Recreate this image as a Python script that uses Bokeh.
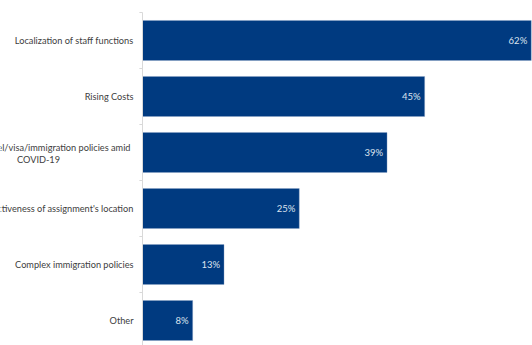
from bokeh.plotting import figure
from bokeh.models import ColumnDataSource, Range1d
from bokeh.embed import file_html
from bokeh.resources import INLINE
from bokeh.core.properties import value

categories = [
    "Localization of staff functions",
    "Rising Costs",
    "Travel/visa/immigration policies amid\nCOVID-19",
    "Attractiveness of assignment's location",
    "Complex immigration policies",
    "Other",
]
values = [62, 45, 39, 25, 13, 8]
value_labels = ["62%", "45%", "39%", "25%", "13%", "8%"]

n = len(categories)
ypos = [n - 1 - i for i in range(n)]  # top category highest

src = ColumnDataSource(dict(y=ypos, v=values, lab=value_labels))

# split category labels into lines (wrapped label lines are centred like Excel)
ly, ltext, lalign, lxoff, lyoff = [], [], [], [], []
for y, cat in zip(ypos, categories):
    lines = cat.split("\n")
    if len(lines) == 1:
        ly.append(y); ltext.append(cat); lalign.append("right"); lxoff.append(-9); lyoff.append(0)
    else:
        ly.append(y); ltext.append(lines[0]); lalign.append("right"); lxoff.append(-12); lyoff.append(-5.5)
        ly.append(y); ltext.append(lines[1]); lalign.append("center"); lxoff.append(-104); lyoff.append(6.5)
lsrc = ColumnDataSource(dict(y=ly, t=ltext, a=lalign, xo=lxoff, yo=lyoff))

p = figure(width=532, height=345, output_backend="svg", toolbar_location=None,
           x_range=Range1d(-22.65, 62.2), y_range=Range1d(-0.446, 5.714),
           min_border=0, outline_line_color=None)
p.xaxis.visible = False
p.yaxis.visible = False
p.grid.visible = False

bar_h = 40 / 56
p.hbar(y="y", right="v", left=0, height=bar_h, source=src,
       fill_color="#003A80", line_color="#8FA6C8", line_width=0.6, line_alpha=0.6)

# axis line and ticks at band boundaries
p.segment(x0=[0], y0=[n - 0.5], x1=[0], y1=[-0.6], line_color="#D9D9D9", line_width=1)
bounds = [n - 0.5 - i for i in range(n)]
p.segment(x0=[0] * n, y0=bounds, x1=[-0.5] * n, y1=bounds, line_color="#D9D9D9", line_width=1)

# value labels
p.text(x="v", y="y", text="lab", source=src, x_offset=-4,
       text_align="right", text_baseline="middle", text_color="#DCE2EE",
       text_font=value("Lato"), text_font_size="9.5px")

# category labels
p.text(x=0, y="y", text="t", source=lsrc, x_offset="xo", y_offset="yo",
       text_align="a", text_baseline="middle", text_color="#404040",
       text_font=value("Lato"), text_font_size="9.2px")

open("out.html", "w").write(file_html(p, INLINE))
